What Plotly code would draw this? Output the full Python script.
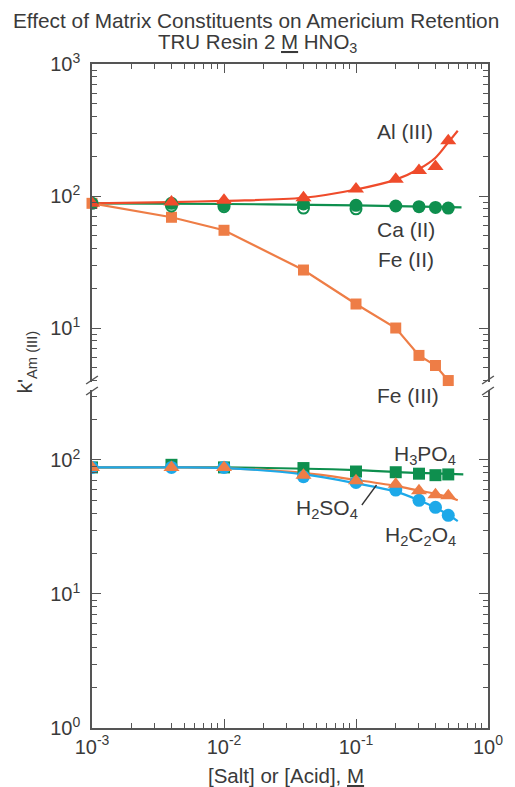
import plotly.graph_objects as go
import numpy as np

# ---------------- data ----------------
conc = [0.001, 0.004, 0.01, 0.04, 0.1, 0.2, 0.3, 0.4, 0.5]

al3 = [88, 90, 93, 97, 113, 134, 156, 167, 262]
ca2 = [88, 88, 86, 87, 85, 84, 83, 82, 81]
fe2_conc = [0.004, 0.01, 0.04, 0.1]
fe2 = [84, 83, 81, 80]
fe3 = [88, 69, 55, 27.5, 15.2, 10, 6.2, 5.2, 4.0]

h3po4 = [88, 92, 88, 87, 82, 81, 79, 77, 78]
h2so4 = [88, 88, 88, 77, 70, 66, 59, 55, 54]
h2c2o4 = [88, 88, 88, 75, 68, 59.6, 50, 44.3, 38.6]

fit_conc = [0.001, 0.004, 0.01, 0.04, 0.1, 0.2, 0.3, 0.4, 0.5, 0.59]
al3_fit = [88, 90, 92, 97, 112, 133, 160, 195, 255, 312]
ca2_fit_conc = [0.001, 0.01, 0.1, 0.63]
ca2_fit = [88, 87, 85, 82]
h3po4_fit_conc = [0.001, 0.01, 0.1, 0.3, 0.65]
h3po4_fit = [88, 88, 84, 80, 78]
h2so4_fit = [88, 88, 87, 80, 71, 64, 59, 56, 53, 50]
h2c2o4_fit = [88, 88, 87, 78, 67, 58, 50, 44, 39, 35]

x_ticks = [0.001, 0.01, 0.1, 1]
x_ticktext = ["10<sup>-3</sup>", "10<sup>-2</sup>", "10<sup>-1</sup>", "10<sup>0</sup>"]
y_ticks = [1, 10, 100, 1000]
y_ticktext = ["10<sup>0</sup>", "10<sup>1</sup>", "10<sup>2</sup>", "10<sup>3</sup>"]
minor_vals = [m * 10.0 ** e for e in range(-3, 3) for m in range(2, 10)]

# ---------------- styling ----------------
FONT = "Liberation Sans, Arial, sans-serif"
TXT = "#3a3a3a"
AXC = "#555555"
RED = "#EF4B2B"
ORANGE = "#EE7D46"
GREEN = "#0E8F4E"
BLUE = "#1DA9E9"

W, H = 515, 787
L, R, T, B = 92, 18, 64, 59
PW, PH = W - L - R, H - T - B


def pxx(px):
    return (px - L) / PW


def pxy(py):
    return (H - B - py) / PH


up_dom = [pxy(382), 1.0]
lo_dom = [0.0, pxy(390)]

fig = go.Figure()

# upper panel (xaxis2 / yaxis2)
fig.add_trace(go.Scatter(x=ca2_fit_conc, y=ca2_fit, mode="lines", line=dict(color=GREEN, width=2.2, shape="spline"),
                         xaxis="x2", yaxis="y2", showlegend=False))
fig.add_trace(go.Scatter(x=fit_conc, y=al3_fit, mode="lines", line=dict(color=RED, width=2.2, shape="spline"),
                         xaxis="x2", yaxis="y2", showlegend=False))
fig.add_trace(go.Scatter(x=conc, y=fe3, mode="lines+markers", line=dict(color=ORANGE, width=2.2),
                         marker=dict(symbol="square", size=11, color=ORANGE),
                         xaxis="x2", yaxis="y2", showlegend=False, cliponaxis=False))
fig.add_trace(go.Scatter(x=fe2_conc, y=fe2, mode="markers",
                         marker=dict(symbol="circle-open", size=11, color=GREEN, line=dict(width=2)),
                         xaxis="x2", yaxis="y2", showlegend=False))
fig.add_trace(go.Scatter(x=conc, y=ca2, mode="markers", marker=dict(symbol="circle", size=13, color=GREEN),
                         xaxis="x2", yaxis="y2", showlegend=False))
fig.add_trace(go.Scatter(x=conc, y=al3, mode="markers", marker=dict(symbol="triangle-up", size=14, color=RED),
                         xaxis="x2", yaxis="y2", showlegend=False))

# lower panel (xaxis / yaxis)
fig.add_trace(go.Scatter(x=h3po4_fit_conc, y=h3po4_fit, mode="lines", line=dict(color=GREEN, width=2.2, shape="spline"),
                         showlegend=False))
fig.add_trace(go.Scatter(x=fit_conc, y=h2so4_fit, mode="lines", line=dict(color=ORANGE, width=2.2, shape="spline"),
                         showlegend=False))
fig.add_trace(go.Scatter(x=fit_conc, y=h2c2o4_fit, mode="lines", line=dict(color=BLUE, width=2.2, shape="spline"),
                         showlegend=False))
fig.add_trace(go.Scatter(x=conc, y=h3po4, mode="markers", marker=dict(symbol="square", size=12, color=GREEN),
                         showlegend=False))
fig.add_trace(go.Scatter(x=conc, y=h2c2o4, mode="markers", marker=dict(symbol="circle", size=13, color=BLUE),
                         showlegend=False))
fig.add_trace(go.Scatter(x=conc, y=h2so4, mode="markers", marker=dict(symbol="triangle-up", size=14, color=ORANGE),
                         showlegend=False))

tickfont = dict(family=FONT, size=20, color=TXT)
common_x = dict(type="log", range=[-3, 0], showline=True, linecolor=AXC, linewidth=1.5,
                ticks="inside", ticklen=9, tickwidth=1.2, tickcolor=AXC, showgrid=False, zeroline=False,
                tickmode="array", tickvals=x_ticks,
                minor=dict(tickmode="array", tickvals=minor_vals, ticks="inside", ticklen=5,
                           tickwidth=1.2, tickcolor=AXC, showgrid=False))
common_y = dict(type="log", showline=True, linecolor=AXC, linewidth=1.5, mirror="ticks",
                ticks="inside", ticklen=9, tickwidth=1.2, tickcolor=AXC, showgrid=False, zeroline=False,
                tickmode="array", tickvals=y_ticks, ticktext=y_ticktext, tickfont=tickfont,
                ticklabelstandoff=6,
                minor=dict(tickmode="array", tickvals=minor_vals, ticks="inside", ticklen=5,
                           tickwidth=1.2, tickcolor=AXC, showgrid=False))

fig.update_layout(
    width=W, height=H,
    margin=dict(l=L, r=R, t=T, b=B),
    paper_bgcolor="white", plot_bgcolor="white",
    font=dict(family=FONT, size=20, color=TXT),
    xaxis=dict(**common_x, anchor="y", side="bottom", ticktext=x_ticktext, tickfont=tickfont),
    xaxis2=dict(**common_x, anchor="y2", side="top", matches="x", showticklabels=False, ticktext=x_ticktext),
    yaxis=dict(**common_y, domain=lo_dom, range=[0, 2.522], anchor="x"),
    yaxis2=dict(**common_y, domain=up_dom, range=[0.591, 3], anchor="x2"),
)

# title lines
title_font = dict(family=FONT, size=20.5, color=TXT)
fig.add_annotation(text="Effect of Matrix Constituents on Americium Retention", x=pxx(260), y=pxy(20),
                   xref="paper", yref="paper", showarrow=False, xanchor="center", yanchor="middle",
                   font=dict(family=FONT, size=20.8, color=TXT))
fig.add_annotation(text="TRU Resin 2 <u>M</u> HNO<sub>3</sub>", x=pxx(261), y=pxy(43),
                   xref="paper", yref="paper", showarrow=False, xanchor="center", yanchor="middle",
                   font=title_font)

ann_font = dict(family=FONT, size=21, color=TXT)
labels = [
    ("Al (III)", 412, 131),
    ("Ca (II)", 413, 229),
    ("Fe (II)", 413, 259),
    ("Fe (III)", 415, 395),
    ("H<sub>3</sub>PO<sub>4</sub>", 433, 455),
    ("H<sub>2</sub>SO<sub>4</sub>", 332, 509),
    ("H<sub>2</sub>C<sub>2</sub>O<sub>4</sub>", 428, 536),
]
for text, ax_, ay_ in labels:
    fig.add_annotation(text=text, x=pxx(ax_), y=pxy(ay_), xref="paper", yref="paper",
                       showarrow=False, xanchor="center", yanchor="middle", font=ann_font)

# y-axis title
fig.add_annotation(text="k'<sub>Am (III)</sub>", x=pxx(25), y=pxy(362), xref="paper", yref="paper",
                   showarrow=False, textangle=-90, xanchor="center", yanchor="middle", font=ann_font)
# x-axis title
fig.add_annotation(text="[Salt] or [Acid], <u>M</u>", x=pxx(290), y=pxy(775), xref="paper", yref="paper",
                   showarrow=False, xanchor="center", yanchor="middle", font=title_font)

shapes = []
# leader line for H2SO4
shapes.append(dict(type="line", xref="paper", yref="paper", x0=pxx(368), y0=pxy(505), x1=pxx(383), y1=pxy(485),
                   line=dict(color="#333", width=1.3)))
# axis-break marks
for bx in (L, W - R):
    for by in (380, 391):
        shapes.append(dict(type="line", xref="paper", yref="paper",
                           x0=pxx(bx - 6), y0=pxy(by + 4), x1=pxx(bx + 6), y1=pxy(by - 4),
                           line=dict(color=AXC, width=1.5)))
fig.update_layout(shapes=shapes)

fig.write_html("out.html", config={"displayModeBar": False},
               post_script="document.body.style.margin='0';document.body.style.overflow='hidden';")
